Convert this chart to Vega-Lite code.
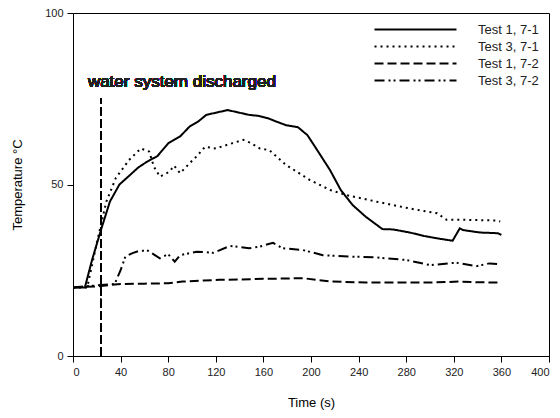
{
  "$schema": "https://vega.github.io/schema/vega-lite/v6.json",
  "width": 476,
  "height": 343,
  "autosize": {"type": "none"},
  "padding": {"left": 73, "top": 13, "right": 11, "bottom": 62},
  "background": "white",
  "config": {
    "font": "Liberation Sans",
    "view": {"stroke": "black", "strokeWidth": 1},
    "axis": {
      "grid": false,
      "domainColor": "black",
      "tickColor": "black",
      "labelColor": "#222",
      "labelFont": "Liberation Sans",
      "labelFontSize": 11,
      "titleFont": "Liberation Sans",
      "titleFontSize": 13,
      "titleFontWeight": "normal",
      "titleColor": "black",
      "tickSize": 6,
      "labelPadding": 4
    }
  },
  "data": {
    "values": [
      {"s": "Test 1, 7-1", "t": 0, "T": 20}, {"s": "Test 1, 7-1", "t": 10, "T": 20}, {"s": "Test 1, 7-1", "t": 16, "T": 28}, {"s": "Test 1, 7-1", "t": 24, "T": 37.3}, {"s": "Test 1, 7-1", "t": 31, "T": 45}, {"s": "Test 1, 7-1", "t": 39, "T": 50}, {"s": "Test 1, 7-1", "t": 48, "T": 52.8}, {"s": "Test 1, 7-1", "t": 55, "T": 55}, {"s": "Test 1, 7-1", "t": 62, "T": 56.6}, {"s": "Test 1, 7-1", "t": 71, "T": 58.3}, {"s": "Test 1, 7-1", "t": 80, "T": 62}, {"s": "Test 1, 7-1", "t": 90, "T": 64}, {"s": "Test 1, 7-1", "t": 98, "T": 66.9}, {"s": "Test 1, 7-1", "t": 105, "T": 68.3}, {"s": "Test 1, 7-1", "t": 112, "T": 70.3}, {"s": "Test 1, 7-1", "t": 121, "T": 71}, {"s": "Test 1, 7-1", "t": 130, "T": 71.7}, {"s": "Test 1, 7-1", "t": 139, "T": 71}, {"s": "Test 1, 7-1", "t": 148, "T": 70.3}, {"s": "Test 1, 7-1", "t": 156, "T": 70}, {"s": "Test 1, 7-1", "t": 164, "T": 69.3}, {"s": "Test 1, 7-1", "t": 172, "T": 68.2}, {"s": "Test 1, 7-1", "t": 179, "T": 67.3}, {"s": "Test 1, 7-1", "t": 189, "T": 66.7}, {"s": "Test 1, 7-1", "t": 197, "T": 64.4}, {"s": "Test 1, 7-1", "t": 206, "T": 59.6}, {"s": "Test 1, 7-1", "t": 216, "T": 54.2}, {"s": "Test 1, 7-1", "t": 225, "T": 48.4}, {"s": "Test 1, 7-1", "t": 235, "T": 44}, {"s": "Test 1, 7-1", "t": 246, "T": 40.6}, {"s": "Test 1, 7-1", "t": 260, "T": 37}, {"s": "Test 1, 7-1", "t": 269, "T": 36.9}, {"s": "Test 1, 7-1", "t": 283, "T": 36}, {"s": "Test 1, 7-1", "t": 295, "T": 35}, {"s": "Test 1, 7-1", "t": 306, "T": 34.3}, {"s": "Test 1, 7-1", "t": 319, "T": 33.6}, {"s": "Test 1, 7-1", "t": 325, "T": 37.2}, {"s": "Test 1, 7-1", "t": 328, "T": 36.7}, {"s": "Test 1, 7-1", "t": 342, "T": 36}, {"s": "Test 1, 7-1", "t": 357, "T": 35.8}, {"s": "Test 1, 7-1", "t": 360, "T": 35.3},

      {"s": "Test 3, 7-1", "t": 0, "T": 20}, {"s": "Test 3, 7-1", "t": 12, "T": 20}, {"s": "Test 3, 7-1", "t": 20, "T": 33}, {"s": "Test 3, 7-1", "t": 28, "T": 45}, {"s": "Test 3, 7-1", "t": 36, "T": 51.9}, {"s": "Test 3, 7-1", "t": 47, "T": 57.1}, {"s": "Test 3, 7-1", "t": 57, "T": 60.5}, {"s": "Test 3, 7-1", "t": 64, "T": 59.6}, {"s": "Test 3, 7-1", "t": 68, "T": 55.2}, {"s": "Test 3, 7-1", "t": 73, "T": 52.3}, {"s": "Test 3, 7-1", "t": 81, "T": 53.7}, {"s": "Test 3, 7-1", "t": 85, "T": 55.5}, {"s": "Test 3, 7-1", "t": 90, "T": 53.3}, {"s": "Test 3, 7-1", "t": 98, "T": 56.2}, {"s": "Test 3, 7-1", "t": 105, "T": 58.6}, {"s": "Test 3, 7-1", "t": 111, "T": 61}, {"s": "Test 3, 7-1", "t": 120, "T": 60.5}, {"s": "Test 3, 7-1", "t": 129, "T": 61.5}, {"s": "Test 3, 7-1", "t": 143, "T": 63}, {"s": "Test 3, 7-1", "t": 150, "T": 62}, {"s": "Test 3, 7-1", "t": 157, "T": 60.5}, {"s": "Test 3, 7-1", "t": 165, "T": 60}, {"s": "Test 3, 7-1", "t": 179, "T": 55.7}, {"s": "Test 3, 7-1", "t": 190, "T": 53.3}, {"s": "Test 3, 7-1", "t": 199, "T": 51.3}, {"s": "Test 3, 7-1", "t": 205, "T": 50.3}, {"s": "Test 3, 7-1", "t": 216, "T": 48.4}, {"s": "Test 3, 7-1", "t": 230, "T": 46.9}, {"s": "Test 3, 7-1", "t": 255, "T": 45}, {"s": "Test 3, 7-1", "t": 283, "T": 43}, {"s": "Test 3, 7-1", "t": 306, "T": 41.6}, {"s": "Test 3, 7-1", "t": 314, "T": 39.7}, {"s": "Test 3, 7-1", "t": 331, "T": 39.7}, {"s": "Test 3, 7-1", "t": 356, "T": 39.5}, {"s": "Test 3, 7-1", "t": 359, "T": 39.2},

      {"s": "Test 1, 7-2", "t": 0, "T": 20}, {"s": "Test 1, 7-2", "t": 20, "T": 20.3}, {"s": "Test 1, 7-2", "t": 40, "T": 21}, {"s": "Test 1, 7-2", "t": 60, "T": 21.1}, {"s": "Test 1, 7-2", "t": 80, "T": 21.2}, {"s": "Test 1, 7-2", "t": 92, "T": 21.7}, {"s": "Test 1, 7-2", "t": 110, "T": 22}, {"s": "Test 1, 7-2", "t": 123, "T": 22.2}, {"s": "Test 1, 7-2", "t": 140, "T": 22.3}, {"s": "Test 1, 7-2", "t": 160, "T": 22.5}, {"s": "Test 1, 7-2", "t": 180, "T": 22.6}, {"s": "Test 1, 7-2", "t": 193, "T": 22.7}, {"s": "Test 1, 7-2", "t": 205, "T": 22.2}, {"s": "Test 1, 7-2", "t": 218, "T": 21.7}, {"s": "Test 1, 7-2", "t": 246, "T": 21.4}, {"s": "Test 1, 7-2", "t": 275, "T": 21.4}, {"s": "Test 1, 7-2", "t": 300, "T": 21.4}, {"s": "Test 1, 7-2", "t": 325, "T": 21.7}, {"s": "Test 1, 7-2", "t": 340, "T": 21.5}, {"s": "Test 1, 7-2", "t": 359, "T": 21.4},

      {"s": "Test 3, 7-2", "t": 0, "T": 20}, {"s": "Test 3, 7-2", "t": 35, "T": 21}, {"s": "Test 3, 7-2", "t": 40, "T": 25}, {"s": "Test 3, 7-2", "t": 44, "T": 29}, {"s": "Test 3, 7-2", "t": 50, "T": 30}, {"s": "Test 3, 7-2", "t": 56, "T": 30.7}, {"s": "Test 3, 7-2", "t": 63, "T": 30.7}, {"s": "Test 3, 7-2", "t": 73, "T": 28.5}, {"s": "Test 3, 7-2", "t": 80, "T": 29.7}, {"s": "Test 3, 7-2", "t": 85.5, "T": 27.5}, {"s": "Test 3, 7-2", "t": 90, "T": 29.4}, {"s": "Test 3, 7-2", "t": 104, "T": 30.4}, {"s": "Test 3, 7-2", "t": 118, "T": 30.1}, {"s": "Test 3, 7-2", "t": 132, "T": 32.1}, {"s": "Test 3, 7-2", "t": 148, "T": 31.4}, {"s": "Test 3, 7-2", "t": 157, "T": 31.9}, {"s": "Test 3, 7-2", "t": 168, "T": 33}, {"s": "Test 3, 7-2", "t": 176, "T": 31.4}, {"s": "Test 3, 7-2", "t": 193, "T": 30.9}, {"s": "Test 3, 7-2", "t": 210, "T": 29.4}, {"s": "Test 3, 7-2", "t": 232, "T": 29}, {"s": "Test 3, 7-2", "t": 252, "T": 28.8}, {"s": "Test 3, 7-2", "t": 280, "T": 28}, {"s": "Test 3, 7-2", "t": 300, "T": 26.5}, {"s": "Test 3, 7-2", "t": 322, "T": 27.2}, {"s": "Test 3, 7-2", "t": 339, "T": 26.2}, {"s": "Test 3, 7-2", "t": 350, "T": 27}, {"s": "Test 3, 7-2", "t": 359, "T": 26.7}
    ]
  },
  "layer": [
    {
      "mark": {"type": "line", "color": "black", "strokeWidth": 2},
      "encoding": {
        "x": {"field": "t", "type": "quantitative", "scale": {"domain": [0, 400], "nice": false}, "axis": {"values": [0, 40, 80, 120, 160, 200, 240, 280, 320, 360, 400], "title": "Time (s)", "titlePadding": 19}},
        "y": {"field": "T", "type": "quantitative", "scale": {"domain": [0, 100], "nice": false}, "axis": {"values": [0, 50, 100], "title": "Temperature °C", "titlePadding": 20}},
        "strokeDash": {
          "field": "s", "type": "nominal",
          "scale": {"domain": ["Test 1, 7-1", "Test 3, 7-1", "Test 1, 7-2", "Test 3, 7-2"], "range": [[1, 0], [2, 4], [9, 4], [10, 4, 2, 3, 2, 4]]},
          "legend": {"title": null, "orient": "none", "legendX": 336, "legendY": 10, "symbolType": "M-8,0H8", "symbolSize": 105, "symbolStrokeWidth": 2, "symbolStrokeColor": "black", "labelFontSize": 13, "labelColor": "#222", "labelFont": "Liberation Sans", "labelOffset": 56, "rowPadding": 3}
        },
        "order": {"field": "t", "type": "quantitative"}
      }
    },
    {
      "mark": {"type": "rule", "color": "black", "strokeWidth": 1, "strokeDash": [9, 3]},
      "encoding": {"x": {"datum": 23.5}, "y": {"datum": 0}, "y2": {"datum": 75}}
    },
    {
      "mark": {"type": "text", "text": "water system discharged", "align": "left", "baseline": "middle", "fontSize": 17, "font": "Liberation Sans", "color": "#222"},
      "encoding": {"x": {"datum": 12.5}, "y": {"datum": 80}}
    }
  ]
}
